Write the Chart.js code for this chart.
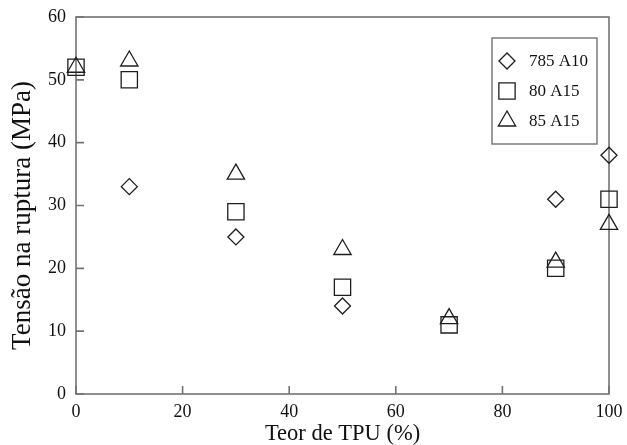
<!DOCTYPE html>
<html>
<head>
<meta charset="utf-8">
<script src="https://cdn.jsdelivr.net/npm/chart.js@4.4.0/dist/chart.umd.min.js"></script>
<style>
  html, body { margin: 0; padding: 0; background: #ffffff; }
  #wrap { width: 627px; height: 445px; }
</style>
</head>
<body>
<div id="wrap"><canvas id="c"></canvas></div>
<script>
// TPU content (%) tested for each blend
const tpuContent = [0, 10, 30, 50, 70, 90, 100];
// Tensile strength at break (MPa); null = no separate mark
const strength785A10 = [null, 33, 25, 14, null, 31, 38];
const strength80A15  = [52, 50, 29, 17, 11, 20, 31];
const strength85A15  = [52, 53, 35, 23, 12, 21, 27];
const seriesNames = ['785 A10', '80 A15', '85 A15'];
const xTicks = [0, 20, 40, 60, 80, 100];
const yTicks = [0, 10, 20, 30, 40, 50, 60];
const xTitle = 'Teor de TPU (%)';
const yTitle = 'Tensão na ruptura (MPa)';

const FONT = '"Liberation Serif", "Times New Roman", serif';
const AXIS_GRAY = '#737373';
const INK = '#1e1e1e';

function toPoints(values) {
  const pts = [];
  values.forEach((v, i) => { if (v !== null) pts.push({ x: tpuContent[i], y: v }); });
  return pts;
}

const markerStyles = [
  { pointStyle: 'rectRot', radius: 8 },
  { pointStyle: 'rect', radius: 11.5 },
  { pointStyle: 'triangle', radius: 10 }
];

function makeDataset(label, values, m) {
  return {
    label: label,
    data: toPoints(values),
    pointStyle: m.pointStyle,
    pointRadius: m.radius,
    pointHoverRadius: m.radius,
    pointBorderColor: INK,
    pointBackgroundColor: 'rgba(0,0,0,0)',
    pointBorderWidth: 1.3,
    showLine: false,
    clip: false
  };
}

// Frame around the plot area plus short inward tick marks
const frameAndTicks = {
  id: 'frameAndTicks',
  beforeDatasetsDraw(chart) {
    const { ctx, chartArea: a, scales } = chart;
    ctx.save();
    ctx.strokeStyle = AXIS_GRAY;
    ctx.lineWidth = 1.6;
    ctx.strokeRect(a.left, a.top, a.right - a.left, a.bottom - a.top);
    const len = 8;
    ctx.beginPath();
    xTicks.forEach(v => {
      const px = scales.x.getPixelForValue(v);
      ctx.moveTo(px, a.bottom);
      ctx.lineTo(px, a.bottom - len);
    });
    yTicks.forEach(v => {
      const py = scales.y.getPixelForValue(v);
      ctx.moveTo(a.left, py);
      ctx.lineTo(a.left + len, py);
    });
    ctx.stroke();
    ctx.restore();
  }
};

// Vertical axis title, set a little below the plot's mid-height
const yAxisTitle = {
  id: 'yAxisTitle',
  afterDraw(chart) {
    const { ctx, chartArea: a } = chart;
    ctx.save();
    ctx.translate(23, (a.top + a.bottom) / 2 + 10);
    ctx.rotate(-Math.PI / 2);
    ctx.fillStyle = '#111111';
    ctx.font = '27px ' + FONT;
    ctx.textAlign = 'center';
    ctx.textBaseline = 'middle';
    ctx.fillText(yTitle, 0, 0);
    ctx.restore();
  }
};

function pathMarker(ctx, style, r, x, y) {
  if (Chart.helpers && Chart.helpers.drawPoint) {
    Chart.helpers.drawPoint(ctx, { pointStyle: style, radius: r, borderWidth: 1.3, rotation: 0 }, x, y);
    return;
  }
  ctx.beginPath();
  if (style === 'rect') {
    const s = Math.SQRT1_2 * r;
    ctx.rect(x - s, y - s, 2 * s, 2 * s);
  } else if (style === 'rectRot') {
    ctx.moveTo(x - r, y); ctx.lineTo(x, y - r); ctx.lineTo(x + r, y); ctx.lineTo(x, y + r); ctx.closePath();
  } else {
    let rad = 0;
    ctx.moveTo(x + Math.sin(rad) * r, y - Math.cos(rad) * r);
    rad += 2 * Math.PI / 3;
    ctx.lineTo(x + Math.sin(rad) * r, y - Math.cos(rad) * r);
    rad += 2 * Math.PI / 3;
    ctx.lineTo(x + Math.sin(rad) * r, y - Math.cos(rad) * r);
    ctx.closePath();
  }
  ctx.stroke();
}

// Boxed legend inside the upper-right corner of the plot
const boxedLegend = {
  id: 'boxedLegend',
  afterDraw(chart) {
    const { ctx, chartArea: a } = chart;
    const w = 105, h = 106;
    const left = a.right - 12 - w, top = a.top + 21;
    ctx.save();
    ctx.strokeStyle = AXIS_GRAY;
    ctx.lineWidth = 1.4;
    ctx.strokeRect(left, top, w, h);
    chart.data.datasets.forEach((ds, i) => {
      const cy = top + 23 + i * 30;
      ctx.strokeStyle = INK;
      ctx.fillStyle = 'rgba(0,0,0,0)';
      ctx.lineWidth = 1.3;
      pathMarker(ctx, ds.pointStyle, ds.pointRadius, left + 15, cy);
      ctx.fillStyle = '#111111';
      ctx.font = '17px ' + FONT;
      ctx.textAlign = 'left';
      ctx.textBaseline = 'middle';
      ctx.fillText(ds.label, left + 37, cy + 1);
    });
    ctx.restore();
  }
};

new Chart(document.getElementById('c'), {
  type: 'scatter',
  data: {
    datasets: [
      makeDataset(seriesNames[0], strength785A10, markerStyles[0]),
      makeDataset(seriesNames[1], strength80A15, markerStyles[1]),
      makeDataset(seriesNames[2], strength85A15, markerStyles[2])
    ]
  },
  options: {
    responsive: true,
    maintainAspectRatio: false,
    animation: false,
    devicePixelRatio: 1,
    layout: { padding: { top: 17, right: 18, left: 0, bottom: 0 } },
    plugins: {
      legend: { display: false },
      tooltip: { enabled: false }
    },
    scales: {
      x: {
        type: 'linear',
        min: 0, max: 100,
        afterBuildTicks(scale) { scale.ticks = xTicks.map(v => ({ value: v })); },
        ticks: { color: '#111111', font: { family: FONT, size: 18 }, padding: 7, maxRotation: 0 },
        grid: { display: false, drawTicks: false },
        border: { display: false },
        title: {
          display: true, text: xTitle, color: '#111111',
          font: { family: FONT, size: 22.5, lineHeight: 1 }, padding: { top: 0, bottom: 0 }
        },
        afterFit(scale) {
          scale.height = 51;
          scale.paddingLeft = 0;
          scale.paddingRight = 0;
        }
      },
      y: {
        type: 'linear',
        min: 0, max: 60,
        afterBuildTicks(scale) { scale.ticks = yTicks.map(v => ({ value: v })); },
        ticks: { color: '#111111', font: { family: FONT, size: 18 }, padding: 10 },
        grid: { display: false, drawTicks: false },
        border: { display: false },
        title: { display: false },
        afterFit(scale) {
          scale.width = 76;
          scale.paddingTop = 0;
          scale.paddingBottom = 0;
        }
      }
    }
  },
  plugins: [frameAndTicks, yAxisTitle, boxedLegend]
});
</script>
</body>
</html>
